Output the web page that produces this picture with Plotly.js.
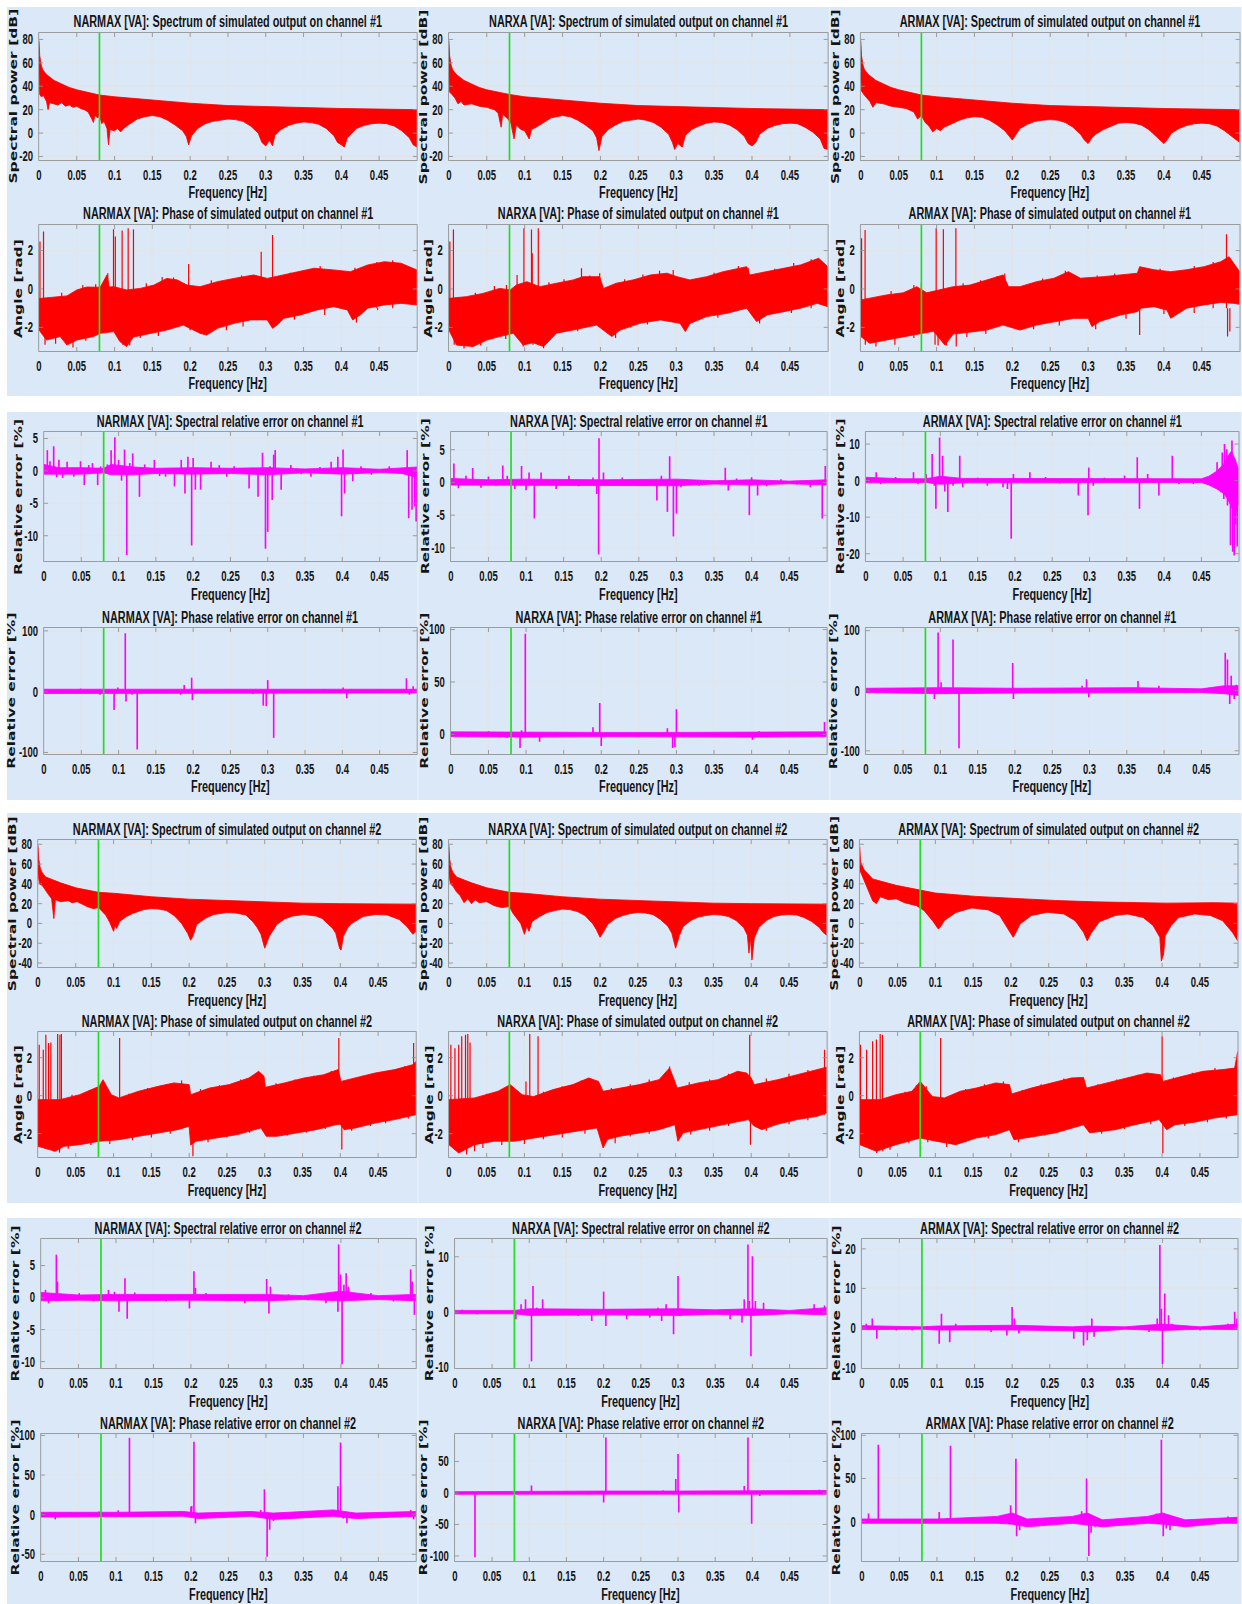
<!DOCTYPE html>
<html><head><meta charset="utf-8">
<script src="https://cdn.plot.ly/plotly-3.0.1.min.js"></script>
<style>
html,body{margin:0;padding:0;background:#fff;overflow:hidden;width:1242px;height:1604px}
#wrap{position:relative;width:1242px;height:1604px;overflow:hidden}
#chart{position:absolute;left:0;top:0;transform-origin:0 0}
</style></head>
<body><div id="wrap"><div id="chart"></div></div>
<script>
// ======================= DATA =======================
const models = ['NARMAX', 'NARXA', 'ARMAX'];
const channels = ['#1', '#2'];
const cutoffFreq = 0.08;
const freqTickVals = [0, 0.05, 0.1, 0.15, 0.2, 0.25, 0.3, 0.35, 0.4, 0.45];
const freqTickText = ['0', '0.05', '0.1', '0.15', '0.2', '0.25', '0.3', '0.35', '0.4', '0.45'];

// ---- Spectrum of simulated output, channel #1 : [freq, dB] envelopes ----
const spec1Hi_NARMAX = [[0,79],[0.001,66],[0.003,58],[0.005,54],[0.01,50],[0.02,45],[0.03,42],[0.04,39],[0.05,37],[0.07,34],[0.08,32.5],[0.1,31],[0.15,28],[0.2,25.5],[0.25,23.5],[0.3,22.5],[0.35,21.5],[0.4,21],[0.45,20.5],[0.5,20]];
const spec1Lo_NARMAX = [[0,50],[0.001,33],[0.003,31],[0.006,32],[0.01,27],[0.012,20],[0.014,26],[0.02,25],[0.025,24],[0.03,26],[0.035,23],[0.04,24],[0.045,22],[0.05,23],[0.055,21],[0.06,20],[0.065,18],[0.07,12],[0.072,9],[0.074,15],[0.078,13],[0.08,15],[0.083,8],[0.086,10],[0.09,4],[0.092,-10],[0.094,3],[0.1,2],[0.104,4],[0.108,1],[0.112,4],[0.118,7],[0.125,10],[0.13,12],[0.14,14],[0.15,15],[0.16,14],[0.17,11],[0.18,7],[0.19,2],[0.195,-3],[0.198,-10],[0.202,-2],[0.21,4],[0.22,8],[0.23,10],[0.24,11],[0.25,12],[0.26,11.5],[0.27,10],[0.28,6],[0.29,0],[0.295,-8],[0.3,-11],[0.305,-6],[0.309,-11],[0.312,-2],[0.32,3],[0.33,6.5],[0.34,8.5],[0.35,9.5],[0.36,9],[0.37,7.5],[0.38,4],[0.39,-2],[0.395,-8],[0.4,-10],[0.404,-12],[0.408,-4],[0.415,1],[0.42,4],[0.43,6.5],[0.44,8],[0.45,8.5],[0.46,8],[0.47,6],[0.48,2],[0.49,-4],[0.495,-10],[0.5,-12]];
const spec1Hi_NARXA = [[0,79],[0.001,66],[0.003,58],[0.005,54],[0.01,50],[0.02,45],[0.03,42],[0.04,39],[0.05,37],[0.07,34],[0.08,33],[0.1,31],[0.15,28],[0.2,25.5],[0.25,23.5],[0.3,22.5],[0.35,21.5],[0.4,21],[0.45,20.5],[0.5,20]];
const spec1Lo_NARXA = [[0,50],[0.001,35],[0.004,33],[0.008,30],[0.012,25],[0.016,27],[0.02,24],[0.03,25],[0.04,23],[0.05,22],[0.06,20],[0.065,17],[0.069,5],[0.071,16],[0.078,12],[0.082,8],[0.086,-5],[0.089,7],[0.095,3],[0.1,2],[0.106,-5],[0.109,3],[0.115,5],[0.125,9],[0.135,13],[0.15,15],[0.16,14],[0.17,11],[0.18,7],[0.19,2],[0.195,-4],[0.198,-15],[0.202,-3],[0.21,3],[0.22,7],[0.23,10],[0.24,11],[0.25,12],[0.26,11],[0.27,9],[0.28,5],[0.29,-1],[0.295,-8],[0.298,-14],[0.302,-9],[0.308,-12],[0.312,-2],[0.32,3],[0.33,6],[0.34,8.5],[0.35,9.5],[0.36,9],[0.37,7],[0.38,3],[0.39,-3],[0.395,-9],[0.4,-11],[0.405,-8],[0.41,-1],[0.42,4],[0.43,6.5],[0.44,8],[0.45,8.5],[0.46,8],[0.47,5],[0.48,1],[0.49,-5],[0.495,-13],[0.5,-14]];
const spec1Hi_ARMAX = [[0,79],[0.001,66],[0.003,58],[0.005,54],[0.01,50],[0.02,45],[0.03,42],[0.04,39],[0.05,37],[0.07,34],[0.08,32.5],[0.1,31],[0.15,28],[0.2,25.5],[0.25,23.5],[0.3,22.5],[0.35,21.5],[0.4,21],[0.45,20.5],[0.5,20]];
const spec1Lo_ARMAX = [[0,50],[0.001,36],[0.004,33],[0.008,30],[0.012,27],[0.016,22],[0.02,26],[0.03,25],[0.04,23],[0.05,22],[0.06,21],[0.07,18],[0.075,12],[0.08,15],[0.085,9],[0.09,6],[0.095,1],[0.1,4],[0.105,2],[0.11,5],[0.12,8],[0.13,11],[0.14,13],[0.15,14],[0.16,13.5],[0.17,11],[0.18,7],[0.19,2],[0.195,-2],[0.2,-6],[0.205,-1],[0.21,4],[0.22,7.5],[0.23,10],[0.24,11],[0.25,11.5],[0.26,11],[0.27,9],[0.28,5],[0.29,-1],[0.295,-6],[0.3,-9],[0.305,-4],[0.31,-1],[0.32,3],[0.33,6],[0.34,8.5],[0.35,9],[0.36,8.5],[0.37,7],[0.38,3],[0.39,-3],[0.395,-6],[0.4,-9],[0.405,-5],[0.41,0],[0.42,4],[0.43,6.5],[0.44,8],[0.45,8.5],[0.46,8],[0.47,6],[0.48,2],[0.49,-3],[0.495,-6],[0.5,-8]];

// ---- Phase of simulated output, channel #1 : [freq, rad] envelopes and spikes/hairs ----
const phase1Hi_NARMAX = [[0,-0.5],[0.037,-0.36],[0.05,-0.05],[0.063,0.1],[0.081,0.09],[0.09,0.73],[0.093,0.1],[0.099,0.12],[0.116,-0.05],[0.134,0.03],[0.152,0.2],[0.169,0.55],[0.183,0.47],[0.196,0.2],[0.213,0.12],[0.236,0.38],[0.258,0.55],[0.284,0.73],[0.302,0.55],[0.324,0.73],[0.346,0.9],[0.364,1.08],[0.39,0.99],[0.412,0.9],[0.435,1.25],[0.457,1.42],[0.479,1.34],[0.5,0.99]];
const phase1Lo_NARMAX = [[0,-2.14],[0.01,-2.66],[0.028,-2.48],[0.037,-2.92],[0.05,-2.66],[0.072,-2.48],[0.081,-2.31],[0.099,-2.22],[0.107,-2.74],[0.116,-3.0],[0.125,-2.5],[0.147,-2.3],[0.169,-2.14],[0.191,-1.88],[0.213,-2.31],[0.222,-2.4],[0.236,-2.05],[0.258,-1.79],[0.28,-1.61],[0.302,-1.61],[0.309,-2.05],[0.315,-1.88],[0.324,-1.53],[0.346,-1.35],[0.368,-1.09],[0.39,-0.92],[0.408,-1.09],[0.415,-1.61],[0.425,-1.35],[0.435,-1.0],[0.457,-0.83],[0.479,-0.75],[0.5,-0.83]];
const phase1Spk_NARMAX = [[0.0013,2.47],[0.006,2.99],[0.008,-2.9],[0.091,0.82],[0.0986,3.11],[0.101,2.73],[0.11,3.04],[0.111,-2.9],[0.118,3.16],[0.12,-2.95],[0.125,3.1],[0.198,1.3],[0.294,1.94],[0.309,2.81],
  [0.03,-0.2],[0.058,0.2],[0.075,0.25],[0.142,0.3],[0.163,0.62],[0.178,0.6],[0.228,0.45],[0.268,0.7],[0.333,0.85],[0.372,1.2],[0.418,1.1],[0.447,1.4],[0.468,1.5],
  [0.022,-2.85],[0.045,-3.05],[0.062,-2.7],[0.134,-2.55],[0.158,-2.45],[0.2,-2.15],[0.248,-2.15],[0.27,-1.95],[0.338,-1.6],[0.378,-1.35],[0.42,-1.75],[0.448,-1.1],[0.49,-1.0]];
const phase1Hi_NARXA = [[0,-0.49],[0.023,-0.4],[0.045,-0.23],[0.067,0.03],[0.081,-0.05],[0.089,0.2],[0.103,0.38],[0.12,0.12],[0.142,0.3],[0.164,0.47],[0.177,0.64],[0.199,0.64],[0.204,0.03],[0.221,0.3],[0.243,0.47],[0.266,0.73],[0.288,0.82],[0.301,0.64],[0.318,0.47],[0.34,0.64],[0.362,0.9],[0.393,1.16],[0.397,0.73],[0.42,0.9],[0.442,1.08],[0.464,1.25],[0.488,1.6],[0.5,1.16]];
const phase1Lo_NARXA = [[0,-2.14],[0.01,-2.92],[0.032,-3.0],[0.05,-2.66],[0.067,-2.48],[0.085,-2.31],[0.098,-2.92],[0.111,-2.8],[0.125,-3.0],[0.142,-2.3],[0.164,-2.14],[0.195,-1.88],[0.215,-2.48],[0.226,-2.14],[0.252,-1.79],[0.279,-1.61],[0.305,-1.79],[0.312,-2.22],[0.318,-1.8],[0.34,-1.44],[0.367,-1.27],[0.393,-1.0],[0.406,-1.7],[0.42,-1.35],[0.442,-1.18],[0.464,-1.0],[0.486,-0.75],[0.5,-0.92]];
const phase1Spk_NARXA = [[0.0013,2.47],[0.006,3.1],[0.007,-2.9],[0.09,0.73],[0.098,-3.0],[0.099,3.16],[0.109,3.1],[0.11,1.86],[0.111,-2.9],[0.118,3.16],[0.125,-3.09],[0.175,1.08],[0.199,0.82],[0.296,0.99],[0.395,1.1],
  [0.035,-0.2],[0.06,0.15],[0.076,0.2],[0.132,0.35],[0.152,0.5],[0.186,0.7],[0.232,0.5],[0.256,0.75],[0.278,0.95],[0.35,0.85],[0.382,1.2],[0.43,1.05],[0.455,1.35],[0.478,1.55],
  [0.02,-3.1],[0.042,-2.95],[0.075,-2.6],[0.135,-2.5],[0.17,-2.2],[0.22,-2.55],[0.24,-2.0],[0.262,-1.85],[0.33,-1.6],[0.355,-1.5],[0.41,-1.8],[0.452,-1.25]];
const phase1Hi_ARMAX = [[0,-0.57],[0.034,-0.31],[0.056,-0.2],[0.074,0.12],[0.087,-0.2],[0.105,-0.05],[0.122,0.12],[0.144,0.2],[0.166,0.47],[0.188,0.73],[0.195,0.12],[0.21,0.12],[0.232,0.38],[0.255,0.56],[0.274,0.9],[0.29,0.56],[0.32,0.64],[0.343,0.73],[0.365,0.82],[0.368,1.16],[0.387,1.0],[0.409,0.9],[0.43,1.0],[0.453,1.16],[0.475,1.42],[0.486,1.68],[0.5,0.9]];
const phase1Lo_ARMAX = [[0,-2.48],[0.012,-2.83],[0.034,-2.66],[0.056,-2.5],[0.078,-2.31],[0.096,-2.2],[0.111,-2.92],[0.122,-2.35],[0.144,-2.25],[0.166,-2.14],[0.188,-1.88],[0.21,-2.14],[0.232,-1.88],[0.255,-1.7],[0.281,-1.53],[0.3,-1.53],[0.305,-1.96],[0.315,-1.7],[0.343,-1.35],[0.365,-1.18],[0.37,-1.0],[0.387,-0.92],[0.404,-1.1],[0.409,-1.53],[0.43,-1.0],[0.453,-0.83],[0.475,-0.7],[0.492,-0.75],[0.5,-0.8]];
const phase1Spk_ARMAX = [[0.001,2.64],[0.0057,3.07],[0.006,-2.9],[0.0995,3.16],[0.098,-2.9],[0.109,3.11],[0.113,-2.95],[0.1255,3.16],[0.126,-3.0],[0.368,-2.4],[0.4826,2.85],[0.484,-2.48],[0.487,-2.22],
  [0.04,-0.1],[0.07,0.2],[0.08,0.3],[0.135,0.3],[0.158,0.45],[0.18,0.68],[0.19,0.8],[0.24,0.55],[0.27,0.95],[0.312,0.7],[0.335,0.8],[0.395,1.05],[0.44,1.2],[0.465,1.4],
  [0.02,-3.0],[0.045,-2.9],[0.07,-2.55],[0.102,-2.95],[0.14,-2.5],[0.165,-2.35],[0.228,-2.1],[0.262,-1.9],[0.31,-2.1],[0.35,-1.55],[0.4,-1.3],[0.44,-1.25]];

// ---- Spectral relative error, channel #1 : band [freq, lo, hi] and spikes [freq, %] ----
const specErr1Band_NARMAX = [[0,-0.5,1],[0.02,-0.5,0.5],[0.05,-0.5,0.5],[0.08,-0.3,0.4],[0.09,-0.6,1],[0.12,-0.6,0.6],[0.15,-0.4,0.4],[0.2,-0.5,0.5],[0.25,-0.4,0.4],[0.3,-0.6,0.5],[0.35,-0.3,0.3],[0.4,-0.5,0.5],[0.45,-0.25,0.25],[0.48,-0.4,0.5],[0.5,-1,0.6]];
const specErr1Spk_NARMAX = [[0.0045,3.2],[0.008,1.5],[0.013,3.8],[0.017,-1.0],[0.02,1.7],[0.025,-1.1],[0.031,1.4],[0.04,-0.9],[0.049,1.5],[0.054,-2.2],[0.06,0.9],[0.065,1.2],[0.072,-2.2],[0.076,0.7],[0.085,1.0],[0.09,3.2],[0.095,5.2],[0.1,1.7],[0.104,-1.5],[0.108,3.3],[0.111,-13.0],[0.115,1.2],[0.119,2.7],[0.128,-4.0],[0.135,1.0],[0.148,1.7],[0.155,-0.8],[0.163,-0.9],[0.175,-2.4],[0.184,1.7],[0.189,-3.5],[0.193,2.2],[0.198,-11.5],[0.2,2.0],[0.203,-2.9],[0.21,-2.9],[0.224,1.4],[0.235,0.9],[0.245,-0.9],[0.255,0.7],[0.275,-2.7],[0.287,-4.0],[0.293,2.8],[0.297,-12.0],[0.3,-9.4],[0.303,0.7],[0.306,-4.5],[0.308,2.5],[0.31,3.2],[0.318,-2.9],[0.331,0.9],[0.345,-0.5],[0.358,-0.9],[0.37,0.6],[0.385,1.4],[0.394,2.2],[0.399,-7.0],[0.401,3.3],[0.403,-3.5],[0.414,-1.6],[0.425,0.7],[0.439,-0.6],[0.463,0.7],[0.479,0.4],[0.487,3.2],[0.489,-7.3],[0.4935,-6.0],[0.497,-5.5],[0.499,-7.8]];
const specErr1Band_NARXA = [[0,-0.4,0.6],[0.05,-0.4,0.4],[0.1,-0.5,0.5],[0.2,-0.4,0.4],[0.3,-0.5,0.5],[0.35,-0.25,0.25],[0.4,-0.4,0.4],[0.45,-0.2,0.2],[0.5,-0.4,0.4]];
const specErr1Spk_NARXA = [[0.004,2.9],[0.01,-0.9],[0.02,1.0],[0.029,2.2],[0.04,-0.8],[0.05,0.9],[0.06,-0.5],[0.069,2.6],[0.075,1.0],[0.085,-1.0],[0.094,2.5],[0.1,-1.2],[0.104,1.5],[0.111,-5.5],[0.12,1.5],[0.14,-1.0],[0.157,1.0],[0.17,-0.6],[0.189,0.75],[0.194,-1.75],[0.1965,-11.0],[0.197,6.75],[0.203,1.5],[0.228,0.75],[0.25,-0.5],[0.274,-2.75],[0.28,1.0],[0.288,-4.5],[0.291,4.0],[0.296,-8.25],[0.3,-4.75],[0.306,-0.75],[0.33,-0.5],[0.365,2.25],[0.369,-1.25],[0.38,0.6],[0.397,-5.0],[0.4,0.8],[0.408,-2.0],[0.42,-0.6],[0.439,0.5],[0.46,-0.3],[0.478,-0.75],[0.494,-5.5],[0.498,2.5]];
const specErr1Band_ARMAX = [[0,-0.6,0.9],[0.05,-0.5,0.5],[0.08,-0.5,0.5],[0.1,-1,1.2],[0.13,-0.6,0.6],[0.2,-0.6,0.6],[0.3,-0.6,0.6],[0.36,-0.5,0.5],[0.45,-0.5,0.5],[0.46,-1.2,1.2],[0.47,-2.2,2.5],[0.48,-3.5,4.5],[0.485,-5,6.5],[0.49,-7,8],[0.495,-10,6],[0.5,-6,3]];
const specErr1Spk_ARMAX = [[0.014,2.3],[0.02,-1],[0.04,1.0],[0.064,2.3],[0.07,-1],[0.081,1.8],[0.089,7.3],[0.092,-1.4],[0.094,-7.7],[0.099,11.8],[0.103,6.8],[0.106,-3],[0.11,-8.6],[0.117,-1.4],[0.126,6.8],[0.13,-1.8],[0.15,0.8],[0.163,-1.4],[0.184,-1.8],[0.19,-2.3],[0.195,-15.9],[0.198,1.8],[0.22,2.3],[0.241,1.0],[0.26,-0.8],[0.285,-4.1],[0.298,-9.5],[0.299,3.6],[0.305,-1.4],[0.32,0.8],[0.347,1.4],[0.364,6.4],[0.367,-7.7],[0.378,1.8],[0.393,-4.1],[0.411,6.8],[0.42,-1],[0.439,-0.9],[0.471,5.0],[0.476,-3.2],[0.478,7.7],[0.48,-5],[0.481,10.0],[0.484,8.6],[0.485,-6.8],[0.489,-17.7],[0.491,11],[0.492,-19.5],[0.494,-20.5],[0.496,-12],[0.498,-18]];

// ---- Phase relative error, channel #1 ----
const phaseErr1Band_NARMAX = [[0,-3,4],[0.1,-3,4],[0.2,-3,4],[0.3,-3,4],[0.4,-3,4],[0.5,-2,4]];
const phaseErr1Spk_NARMAX = [[0.02,3],[0.049,5],[0.075,-5],[0.094,-30],[0.099,7],[0.109,96],[0.11,-16],[0.118,-5],[0.125,-95],[0.14,3],[0.183,-5],[0.188,11],[0.198,23],[0.199,-14],[0.245,4],[0.28,-4],[0.294,-23],[0.298,-24],[0.3,19],[0.308,-76],[0.32,3],[0.376,4],[0.401,7],[0.406,-11],[0.45,4],[0.486,22],[0.49,-5],[0.495,9]];
const phaseErr1Band_NARXA = [[0,-2,2.5],[0.1,-2.5,2],[0.2,-2,2],[0.3,-2.5,2],[0.4,-2.5,2],[0.5,-2,2.5]];
const phaseErr1Spk_NARXA = [[0.023,-2.5],[0.05,3],[0.075,-3],[0.092,-13],[0.094,4],[0.099,96],[0.118,-7],[0.14,2],[0.189,7],[0.198,30],[0.2,-11],[0.25,-2],[0.288,6],[0.295,-13],[0.298,-12],[0.3,24],[0.35,2],[0.401,-5],[0.41,3],[0.45,-2],[0.497,12]];
const phaseErr1Band_ARMAX = [[0,-3,4],[0.1,-5,5],[0.2,-4,4],[0.3,-4,4],[0.36,-3,5],[0.45,-3,3],[0.48,-5,8],[0.5,-8,8]];
const phaseErr1Spk_ARMAX = [[0.01,3],[0.05,-3],[0.092,-14],[0.097,97],[0.101,14],[0.107,-5],[0.117,85],[0.125,-96],[0.16,3],[0.197,46],[0.198,-14],[0.25,3],[0.29,8],[0.296,19],[0.299,-11],[0.365,16],[0.37,-4],[0.393,8],[0.43,3],[0.482,63],[0.485,52],[0.488,-22],[0.49,25],[0.494,-14],[0.497,10]];

// ---- Spectrum of simulated output, channel #2 ----
const spec2Hi_NARMAX = [[0,79],[0.001,65],[0.003,56],[0.005,52],[0.01,47],[0.02,44],[0.03,41],[0.05,36],[0.08,31.5],[0.1,30.5],[0.15,27],[0.2,24.5],[0.25,23],[0.3,21.5],[0.35,20.5],[0.4,20],[0.45,19.5],[0.5,19.5]];
const spec2Lo_NARMAX = [[0,50],[0.002,40],[0.006,38],[0.01,33],[0.014,29],[0.018,25],[0.021,5],[0.023,24],[0.03,22],[0.04,23],[0.045,21],[0.052,22],[0.06,19],[0.065,17],[0.073,15],[0.08,16],[0.085,12],[0.09,8],[0.095,1],[0.1,-8],[0.102,-2],[0.104,-5],[0.108,2],[0.117,7],[0.125,10],[0.132,12],[0.14,14],[0.15,15],[0.16,14.5],[0.17,13],[0.18,8],[0.184,5],[0.19,0],[0.194,-5],[0.198,-10],[0.202,-17],[0.205,-13],[0.21,-1],[0.221,5],[0.232,9],[0.243,10.5],[0.25,11],[0.262,10.5],[0.275,8.5],[0.284,2],[0.29,-4],[0.295,-11],[0.3,-25],[0.306,-13],[0.316,-1],[0.326,4.5],[0.337,7.5],[0.352,9],[0.368,7.5],[0.376,5],[0.383,0],[0.39,-5],[0.394,-10],[0.399,-25],[0.401,-27],[0.404,-13],[0.41,-4],[0.415,0],[0.43,7],[0.446,9],[0.462,8.5],[0.478,4],[0.488,-3],[0.496,-11],[0.5,-8]];
const spec2Hi_NARXA = [[0,79],[0.001,65],[0.003,56],[0.005,52],[0.01,47],[0.02,44],[0.03,41],[0.05,36],[0.08,31.5],[0.1,30.5],[0.15,27],[0.2,24.5],[0.25,23],[0.3,21.5],[0.35,20.5],[0.4,20],[0.45,19.5],[0.5,19.5]];
const spec2Lo_NARXA = [[0,50],[0.002,40],[0.006,37],[0.01,32],[0.015,28],[0.02,21],[0.025,25],[0.03,20],[0.035,24],[0.04,21],[0.05,22],[0.06,18],[0.07,16],[0.08,17],[0.085,10],[0.09,5],[0.095,0],[0.1,-11],[0.103,-3],[0.106,-8],[0.11,2],[0.12,7],[0.13,11],[0.14,13],[0.15,14.5],[0.16,14],[0.17,12],[0.18,8],[0.19,0],[0.195,-6],[0.2,-14],[0.205,-8],[0.21,-1],[0.22,5],[0.23,8],[0.24,10],[0.25,11],[0.26,10.5],[0.27,9],[0.28,4],[0.29,-3],[0.295,-10],[0.3,-25],[0.305,-12],[0.31,-3],[0.32,3],[0.33,6.5],[0.34,8],[0.35,9],[0.36,8.5],[0.37,7],[0.38,3],[0.39,-4],[0.395,-12],[0.397,-30],[0.399,-14],[0.401,-37],[0.404,-15],[0.41,-4],[0.42,3],[0.43,7],[0.44,8.5],[0.45,9],[0.46,8.5],[0.47,6],[0.48,2],[0.49,-4],[0.495,-9],[0.5,-12]];
const spec2Hi_ARMAX = [[0,77.6],[0.001,62],[0.006,54],[0.017,45],[0.048,38.5],[0.08,33.4],[0.1,30.7],[0.154,27.3],[0.206,25],[0.259,23.2],[0.312,21.8],[0.364,21],[0.406,20.5],[0.469,21],[0.5,20.5]];
const spec2Lo_ARMAX = [[0,54],[0.009,37],[0.017,23],[0.022,20],[0.027,27],[0.038,24],[0.048,25],[0.059,21],[0.075,18],[0.085,13],[0.096,3],[0.104,-5.7],[0.108,-2],[0.112,3],[0.127,11],[0.148,15.7],[0.17,13.7],[0.185,8],[0.198,-7.4],[0.203,-14],[0.206,-10],[0.212,-0.6],[0.227,8],[0.248,11.3],[0.27,9.6],[0.285,2.8],[0.296,-9],[0.301,-17.6],[0.306,-10],[0.317,1.7],[0.338,8],[0.354,9.6],[0.375,6],[0.388,-2],[0.397,-14],[0.399,-38],[0.402,-31],[0.404,-12.5],[0.412,-2],[0.422,6],[0.443,9.6],[0.464,8],[0.48,2.8],[0.493,-9],[0.5,-17.6]];

// ---- Phase of simulated output, channel #2 ----
const phase2Hi_NARMAX = [[0,-0.21],[0.029,-0.21],[0.055,0.05],[0.081,0.49],[0.086,0.84],[0.097,0.05],[0.107,-0.12],[0.133,0.23],[0.159,0.49],[0.18,0.67],[0.2,0.58],[0.202,0.05],[0.227,0.4],[0.253,0.58],[0.279,0.93],[0.292,1.28],[0.299,1.02],[0.301,0.44],[0.326,0.67],[0.352,0.93],[0.378,1.1],[0.397,1.37],[0.401,0.75],[0.42,0.93],[0.446,1.19],[0.472,1.37],[0.496,1.63],[0.5,1.8]];
const phase2Lo_NARMAX = [[0,-2.67],[0.023,-2.93],[0.034,-2.67],[0.055,-2.58],[0.081,-2.4],[0.107,-2.32],[0.133,-2.14],[0.159,-1.96],[0.185,-1.79],[0.2,-1.61],[0.202,-2.6],[0.209,-2.4],[0.237,-2.23],[0.264,-2.05],[0.295,-1.7],[0.302,-2.14],[0.316,-2.14],[0.342,-1.96],[0.368,-1.79],[0.394,-1.53],[0.4,-1.5],[0.405,-1.79],[0.42,-1.7],[0.446,-1.44],[0.472,-1.26],[0.5,-1.0]];
const phase2Spk_NARMAX = [[0.0016,2.68],[0.007,2.42],[0.0104,3.2],[0.014,2.77],[0.017,2.8],[0.021,-2.93],[0.026,3.25],[0.0285,-3.0],[0.029,3.2],[0.031,3.25],[0.108,3.03],[0.205,-3.19],[0.398,3.03],[0.402,-2.84],[0.497,2.77],
  [0.045,0.05],[0.068,0.3],[0.12,0.1],[0.145,0.4],[0.17,0.6],[0.19,0.8],[0.215,0.35],[0.24,0.55],[0.268,0.85],[0.315,0.65],[0.34,0.85],[0.365,1.05],[0.388,1.3],[0.43,1.05],[0.46,1.3],[0.485,1.55],
  [0.04,-2.8],[0.07,-2.6],[0.095,-2.55],[0.125,-2.35],[0.15,-2.2],[0.175,-2.0],[0.225,-2.45],[0.25,-2.2],[0.28,-1.95],[0.33,-2.1],[0.355,-1.95],[0.38,-1.75],[0.415,-1.85],[0.44,-1.6],[0.46,-1.45],[0.49,-1.2]];
const phase2Hi_NARXA = [[0,-0.21],[0.034,-0.12],[0.065,0.23],[0.081,0.58],[0.097,0.05],[0.112,-0.05],[0.138,0.32],[0.164,0.58],[0.185,0.93],[0.198,0.75],[0.204,0.23],[0.226,0.4],[0.252,0.58],[0.278,0.84],[0.292,1.46],[0.299,0.75],[0.302,0.4],[0.33,0.67],[0.356,0.84],[0.382,1.28],[0.394,1.19],[0.4,0.93],[0.404,0.58],[0.435,0.84],[0.461,1.1],[0.487,1.37],[0.5,1.5]];
const phase2Lo_NARXA = [[0,-2.58],[0.013,-3.02],[0.034,-2.58],[0.06,-2.4],[0.086,-2.4],[0.112,-2.23],[0.138,-2.05],[0.164,-1.88],[0.196,-1.7],[0.204,-2.75],[0.21,-2.3],[0.226,-2.14],[0.252,-1.96],[0.278,-1.79],[0.299,-1.53],[0.303,-2.4],[0.31,-1.96],[0.33,-1.79],[0.356,-1.6],[0.382,-1.35],[0.396,-1.26],[0.404,-1.6],[0.414,-1.79],[0.435,-1.5],[0.461,-1.26],[0.487,-1.09],[0.5,-0.91]];
const phase2Spk_NARXA = [[0.0026,2.68],[0.008,2.5],[0.013,2.68],[0.017,3.12],[0.022,3.21],[0.0235,-3.1],[0.025,3.25],[0.028,2.8],[0.034,-2.93],[0.102,0.75],[0.107,3.25],[0.118,3.12],[0.292,1.54],[0.398,3.21],[0.399,-2.58],[0.497,2.42],
  [0.05,0.1],[0.075,0.4],[0.125,0.2],[0.15,0.5],[0.175,0.8],[0.215,0.4],[0.24,0.6],[0.265,0.85],[0.318,0.7],[0.345,0.85],[0.37,1.15],[0.42,0.9],[0.45,1.15],[0.475,1.35],
  [0.045,-2.75],[0.07,-2.6],[0.1,-2.55],[0.125,-2.3],[0.15,-2.2],[0.18,-2.0],[0.22,-2.5],[0.24,-2.15],[0.265,-2.0],[0.32,-2.05],[0.345,-1.85],[0.37,-1.6],[0.42,-1.85],[0.45,-1.5],[0.475,-1.3]];
const phase2Hi_ARMAX = [[0,-0.21],[0.027,-0.21],[0.048,0.05],[0.069,0.23],[0.08,0.75],[0.096,-0.05],[0.112,-0.12],[0.133,0.23],[0.154,0.4],[0.18,0.67],[0.198,0.58],[0.201,0.09],[0.227,0.4],[0.254,0.67],[0.28,0.93],[0.296,0.96],[0.3,0.4],[0.327,0.67],[0.354,0.93],[0.38,1.19],[0.398,1.1],[0.401,0.75],[0.427,1.02],[0.454,1.28],[0.48,1.37],[0.496,1.45],[0.5,2.33]];
const phase2Lo_ARMAX = [[0,-2.58],[0.022,-2.93],[0.048,-2.58],[0.08,-2.23],[0.101,-2.4],[0.127,-2.58],[0.154,-2.23],[0.18,-2.05],[0.198,-1.79],[0.204,-2.32],[0.233,-2.14],[0.259,-1.96],[0.296,-1.53],[0.304,-1.96],[0.338,-1.79],[0.364,-1.53],[0.396,-1.26],[0.406,-1.79],[0.417,-1.53],[0.443,-1.4],[0.469,-1.18],[0.5,-1.0]];
const phase2Spk_ARMAX = [[0.001,2.68],[0.009,2.42],[0.017,2.86],[0.022,2.95],[0.0225,-3.02],[0.027,3.25],[0.03,3.2],[0.0305,-2.93],[0.107,3.03],[0.4,3.12],[0.401,-3.02],
  [0.06,0.2],[0.075,0.55],[0.088,0.5],[0.14,0.35],[0.165,0.6],[0.19,0.75],[0.215,0.3],[0.24,0.6],[0.27,0.9],[0.315,0.6],[0.34,0.85],[0.368,1.1],[0.415,0.95],[0.44,1.2],[0.47,1.45],
  [0.04,-2.85],[0.065,-2.5],[0.09,-2.45],[0.115,-2.7],[0.14,-2.45],[0.17,-2.25],[0.21,-2.45],[0.245,-2.1],[0.27,-1.85],[0.32,-2.0],[0.35,-1.75],[0.385,-1.5],[0.43,-1.6],[0.46,-1.4],[0.485,-1.2]];

// ---- Spectral relative error, channel #2 ----
const specErr2Band_NARMAX = [[0,-0.5,0.8],[0.05,-0.4,0.4],[0.1,-0.5,0.5],[0.2,-0.4,0.5],[0.3,-0.5,0.5],[0.35,-0.3,0.3],[0.4,-0.5,1],[0.45,-0.3,0.3],[0.5,-0.5,0.5]];
const specErr2Spk_NARMAX = [[0.006,1.2],[0.01,-0.9],[0.0205,6.7],[0.022,2.5],[0.033,0.5],[0.051,0.7],[0.07,-0.6],[0.09,1.2],[0.098,0.9],[0.104,-2.2],[0.112,3.0],[0.115,-3.3],[0.125,0.8],[0.15,-0.4],[0.167,-0.6],[0.198,-1.7],[0.204,4.1],[0.206,1.5],[0.22,0.7],[0.25,-0.5],[0.272,-0.9],[0.301,2.9],[0.304,-2.5],[0.306,1.7],[0.33,0.5],[0.356,-0.4],[0.38,-0.9],[0.396,-2.2],[0.397,8.3],[0.3995,3.6],[0.4016,-10.4],[0.404,2.0],[0.407,3.8],[0.41,1.7],[0.44,0.7],[0.47,-0.6],[0.493,4.4],[0.495,2.5],[0.498,-2.7]];
const specErr2Band_NARXA = [[0,-0.3,0.3],[0.08,-0.3,0.3],[0.1,-0.6,0.6],[0.2,-0.5,0.5],[0.3,-0.6,0.6],[0.35,-0.4,0.4],[0.4,-0.6,0.6],[0.45,-0.3,0.3],[0.5,-0.5,0.8]];
const specErr2Spk_NARXA = [[0.01,0.4],[0.03,-0.4],[0.06,0.3],[0.082,-1.3],[0.089,1.4],[0.095,2.3],[0.103,-8.9],[0.105,4.7],[0.11,0.8],[0.118,2.3],[0.14,-0.5],[0.166,-0.7],[0.184,-1.6],[0.2,3.7],[0.203,-2.5],[0.231,-1.3],[0.262,-1.0],[0.273,0.8],[0.278,-1.6],[0.284,1.4],[0.294,-4.0],[0.3,6.5],[0.303,-0.7],[0.333,-0.4],[0.362,-0.4],[0.37,-1.3],[0.386,-1.9],[0.389,2.3],[0.394,12.2],[0.396,2.0],[0.398,-8.0],[0.4,10.1],[0.404,2.0],[0.415,1.7],[0.431,-0.4],[0.483,1.4],[0.491,0.5],[0.497,1.2]];
const specErr2Band_ARMAX = [[0,-0.4,0.6],[0.08,-0.3,0.3],[0.1,-0.5,0.5],[0.2,-0.5,0.7],[0.28,-0.7,0.3],[0.3,-1,0.5],[0.35,-0.3,0.3],[0.4,-0.6,1],[0.45,-0.3,0.3],[0.5,-0.4,1]];
const specErr2Spk_ARMAX = [[0.006,1.1],[0.014,2.4],[0.02,-2.7],[0.046,-0.6],[0.067,-0.6],[0.103,-4.0],[0.106,3.6],[0.117,-3.6],[0.125,1.1],[0.172,-1.0],[0.193,-1.9],[0.2,5.3],[0.203,2.4],[0.209,-1.4],[0.266,-0.6],[0.282,-2.7],[0.295,-4.4],[0.3,-3.1],[0.306,2.4],[0.309,-2.2],[0.382,-1.0],[0.393,2.4],[0.3965,21],[0.3985,4.9],[0.4,-9.1],[0.403,8.7],[0.408,3.2],[0.413,1.1],[0.45,-0.6],[0.487,1.1],[0.496,4.1],[0.499,2.4]];

// ---- Phase relative error, channel #2 ----
const phaseErr2Band_NARMAX = [[0,-3,3],[0.1,-2,3],[0.19,-2,4],[0.21,-5,2],[0.28,-2,4],[0.31,-6,2],[0.39,-2,6],[0.42,-5,2],[0.5,-2,4]];
const phaseErr2Spk_NARMAX = [[0.009,-2],[0.019,-6],[0.04,3],[0.077,4],[0.103,5.5],[0.118,97],[0.15,-2],[0.2,10],[0.201,11],[0.204,92],[0.206,-11],[0.25,-3],[0.28,3],[0.293,6],[0.298,32],[0.3016,-53],[0.305,-19],[0.31,-8],[0.35,3],[0.396,36],[0.3995,91],[0.403,-5],[0.408,-11],[0.45,-4],[0.493,6],[0.497,-6]];
const phaseErr2Band_NARXA = [[0,-2,2],[0.1,-2,3],[0.2,-2,3],[0.3,-3,3],[0.4,-3,3],[0.5,-2,4]];
const phaseErr2Spk_NARXA = [[0.027,-102],[0.103,12],[0.15,3],[0.18,-2],[0.2,-15],[0.203,88],[0.25,3],[0.28,4],[0.297,22],[0.3,62],[0.301,-31],[0.35,2],[0.389,11],[0.394,88],[0.399,-49],[0.41,-5],[0.45,2],[0.483,4],[0.49,5]];
const phaseErr2Band_ARMAX = [[0,-2,3],[0.1,-2,3],[0.18,-2,6],[0.2,-3,10],[0.22,-6,3],[0.28,-2,6],[0.3,-4,10],[0.32,-6,2],[0.38,-2,6],[0.4,-3,10],[0.43,-6,2],[0.48,-2,4],[0.5,-2,5]];
const phaseErr2Spk_ARMAX = [[0.009,9.5],[0.022,89],[0.05,2],[0.103,11],[0.118,88],[0.12,-2],[0.198,19],[0.205,73],[0.206,-17],[0.21,-10],[0.25,3],[0.2925,12],[0.299,50],[0.302,-40],[0.305,-13],[0.31,-6],[0.392,9.5],[0.3985,95],[0.401,-17],[0.405,-8],[0.41,-10],[0.487,6],[0.497,5]];

// ---- Y axis ranges and tick values ----
const ySpec1Range = [-23, 85.5], ySpec1Ticks = [-20, 0, 20, 40, 60, 80];
const yPhase1Range = [-3.23, 3.33], yPhase1Ticks = [-2, 0, 2];
const ySpecErr1Ranges = [[-13.9, 6], [-12, 7.7], [-22, 13.3]];
const ySpecErr1Ticks = [[-10, -5, 0, 5], [-10, -5, 0, 5], [-20, -10, 0, 10]];
const yPhaseErr1Ranges = [[-102.5, 104.7], [-18.6, 101.5], [-105.4, 104.3]];
const yPhaseErr1Ticks = [[-100, 0, 100], [0, 50, 100], [-100, 0, 100]];
const ySpec2Range = [-44, 84.3], ySpec2Ticks = [-40, -20, 0, 20, 40, 60, 80];
const yPhase2Range = [-3.23, 3.35], yPhase2Ticks = [-2, 0, 2];
const ySpecErr2Ranges = [[-11, 9.15], [-10.1, 13.2], [-10.1, 22.5]];
const ySpecErr2Ticks = [[-10, -5, 0, 5], [-10, 0, 10], [-10, 0, 10, 20]];
const yPhaseErr2Ranges = [[-58.5, 101.8], [-108, 93.6], [-45.7, 101.6]];
const yPhaseErr2Ticks = [[-50, 0, 50, 100], [-100, -50, 0, 50], [0, 50, 100]];

// ======================= LOOKUP TABLES BUILT FROM THE ARRAYS =======================
const SPEC = {
  '#1': {NARMAX: [spec1Hi_NARMAX, spec1Lo_NARMAX], NARXA: [spec1Hi_NARXA, spec1Lo_NARXA], ARMAX: [spec1Hi_ARMAX, spec1Lo_ARMAX]},
  '#2': {NARMAX: [spec2Hi_NARMAX, spec2Lo_NARMAX], NARXA: [spec2Hi_NARXA, spec2Lo_NARXA], ARMAX: [spec2Hi_ARMAX, spec2Lo_ARMAX]}
};
const PHASE = {
  '#1': {NARMAX: [phase1Hi_NARMAX, phase1Lo_NARMAX, phase1Spk_NARMAX], NARXA: [phase1Hi_NARXA, phase1Lo_NARXA, phase1Spk_NARXA], ARMAX: [phase1Hi_ARMAX, phase1Lo_ARMAX, phase1Spk_ARMAX]},
  '#2': {NARMAX: [phase2Hi_NARMAX, phase2Lo_NARMAX, phase2Spk_NARMAX], NARXA: [phase2Hi_NARXA, phase2Lo_NARXA, phase2Spk_NARXA], ARMAX: [phase2Hi_ARMAX, phase2Lo_ARMAX, phase2Spk_ARMAX]}
};
const SPECERR = {
  '#1': {NARMAX: [specErr1Band_NARMAX, specErr1Spk_NARMAX], NARXA: [specErr1Band_NARXA, specErr1Spk_NARXA], ARMAX: [specErr1Band_ARMAX, specErr1Spk_ARMAX]},
  '#2': {NARMAX: [specErr2Band_NARMAX, specErr2Spk_NARMAX], NARXA: [specErr2Band_NARXA, specErr2Spk_NARXA], ARMAX: [specErr2Band_ARMAX, specErr2Spk_ARMAX]}
};
const PHASEERR = {
  '#1': {NARMAX: [phaseErr1Band_NARMAX, phaseErr1Spk_NARMAX], NARXA: [phaseErr1Band_NARXA, phaseErr1Spk_NARXA], ARMAX: [phaseErr1Band_ARMAX, phaseErr1Spk_ARMAX]},
  '#2': {NARMAX: [phaseErr2Band_NARMAX, phaseErr2Spk_NARMAX], NARXA: [phaseErr2Band_NARXA, phaseErr2Spk_NARXA], ARMAX: [phaseErr2Band_ARMAX, phaseErr2Spk_ARMAX]}
};
const YAX = {
  '#1': {
    spec: ci => [ySpec1Range, ySpec1Ticks], phase: ci => [yPhase1Range, yPhase1Ticks],
    specErr: ci => [ySpecErr1Ranges[ci], ySpecErr1Ticks[ci]], phaseErr: ci => [yPhaseErr1Ranges[ci], yPhaseErr1Ticks[ci]]
  },
  '#2': {
    spec: ci => [ySpec2Range, ySpec2Ticks], phase: ci => [yPhase2Range, yPhase2Ticks],
    specErr: ci => [ySpecErr2Ranges[ci], ySpecErr2Ticks[ci]], phaseErr: ci => [yPhaseErr2Ranges[ci], yPhaseErr2Ticks[ci]]
  }
};
const TITLES = {
  spec: 'Spectrum of simulated output on channel',
  phase: 'Phase of simulated output on channel',
  specErr: 'Spectral relative error on channel',
  phaseErr: 'Phase relative error on channel'
};
const YLABELS = {spec: 'Spectral power [dB]', phase: 'Angle [rad]', specErr: 'Relative error [%]', phaseErr: 'Relative error [%]'};

// ======================= LAYOUT GEOMETRY (reference pixels) =======================
const FIG_W = 1242, FIG_H = 1604;
const SQUEEZE = 0.68;                 // horizontal condensation of the reference image
const PLOT_W = Math.round(FIG_W / SQUEEZE);
const fx = v => v / FIG_W;
const fy = v => 1 - v / FIG_H;

const blockDefs = [
  {ch: '#1', kinds: ['spec', 'phase'],       band: [7, 396],     L: [39, 449, 861], R: [417, 828, 1240], rows: [[33, 160], [225, 351]]},
  {ch: '#1', kinds: ['specErr', 'phaseErr'], band: [412, 800],   L: [44, 451, 866], R: [417, 827, 1239], rows: [[432, 561], [628, 754]]},
  {ch: '#2', kinds: ['spec', 'phase'],       band: [813, 1203],  L: [38, 449, 860], R: [416, 827, 1238], rows: [[840, 967], [1032, 1157]]},
  {ch: '#2', kinds: ['specErr', 'phaseErr'], band: [1218, 1604], L: [41, 455, 862], R: [416, 827, 1238], rows: [[1239, 1368], [1434, 1561]]}
];

const RED = '#ff0000', MAGENTA = '#ff00ff', GREEN = '#1fe01f';
const BLUE_BG = '#dbe8f7';
const TXT = '#141414';
const TXT_FONT = "'Liberation Sans', Arial, Helvetica, sans-serif";
const YLAB_FONT = "'DejaVu Sans', Verdana, sans-serif";
const SPIKE_BASE = -1;
const SPIKE_W = 0.0022;
const HAIR_W = 0.0016;

const xs = p => p.map(d => d[0]);
const ys = p => p.map(d => d[1]);

const traces = [];
const layout = {
  width: PLOT_W, height: FIG_H,
  margin: {l: 0, r: 0, t: 0, b: 0, pad: 0},
  paper_bgcolor: '#ffffff', plot_bgcolor: '#ffffff',
  showlegend: false, hovermode: false, barmode: 'overlay',
  shapes: [], annotations: []
};

// blue figure panels
blockDefs.forEach(b => {
  layout.shapes.push({type: 'rect', xref: 'paper', yref: 'paper', x0: fx(7), x1: 1, y0: fy(b.band[1]), y1: fy(b.band[0]),
    fillcolor: BLUE_BG, line: {width: 0}, layer: 'below'});
  [418, 830].forEach(sx => layout.shapes.push({type: 'line', xref: 'paper', yref: 'paper', x0: fx(sx), x1: fx(sx),
    y0: fy(b.band[1]), y1: fy(b.band[0]), line: {color: '#e9f1fb', width: 2}, layer: 'below'}));
});

let n = 0;
blockDefs.forEach(b => {
  b.kinds.forEach((kind, ri) => {
    models.forEach((m, ci) => {
      n++;
      const xa = n === 1 ? 'x' : 'x' + n, ya = n === 1 ? 'y' : 'y' + n;
      const xk = n === 1 ? 'xaxis' : 'xaxis' + n, yk = n === 1 ? 'yaxis' : 'yaxis' + n;
      const [T, B] = b.rows[ri];
      const L = b.L[ci], R = b.R[ci];
      const [yr, yt] = YAX[b.ch][kind](ci);

      const axCommon = {
        showline: true, linecolor: '#8e8e8e', linewidth: 1, mirror: 'ticks',
        ticks: 'inside', tickcolor: '#8e8e8e', tickwidth: 1,
        showgrid: true, gridcolor: '#e3e3e3', gridwidth: 1, zeroline: false,
        tickfont: {family: TXT_FONT, size: 14, color: TXT, weight: 'bold'}, fixedrange: true
      };
      layout[xk] = Object.assign({}, axCommon, {
        domain: [fx(L), fx(R)], anchor: ya, range: [0, 0.5],
        tickmode: 'array', tickvals: freqTickVals, ticktext: freqTickText, ticklen: 4, ticklabelstandoff: 2
      });
      layout[yk] = Object.assign({}, axCommon, {
        domain: [fy(B), fy(T)], anchor: xa, range: yr,
        tickmode: 'array', tickvals: yt, ticktext: yt.map(v => String(v)), ticklen: 6, ticklabelstandoff: 5
      });

      if (kind === 'spec' || kind === 'phase') {
        const src = kind === 'spec' ? SPEC[b.ch][m] : PHASE[b.ch][m];
        const hi = src[0], lo = src[1];
        traces.push({type: 'scatter', mode: 'lines', xaxis: xa, yaxis: ya, x: xs(lo), y: ys(lo),
          line: {color: RED, width: 1}});
        traces.push({type: 'scatter', mode: 'lines', xaxis: xa, yaxis: ya, x: xs(hi), y: ys(hi),
          line: {color: RED, width: 1}, fill: 'tonexty', fillcolor: RED});
        if (kind === 'phase') {
          const spk = src[2];
          traces.push({type: 'bar', xaxis: xa, yaxis: ya, x: xs(spk), y: spk.map(d => d[1] - SPIKE_BASE),
            base: SPIKE_BASE, width: HAIR_W, marker: {color: RED, line: {width: 0}}});
        }
      } else {
        const src = kind === 'specErr' ? SPECERR[b.ch][m] : PHASEERR[b.ch][m];
        const band = src[0], spk = src[1];
        traces.push({type: 'scatter', mode: 'lines', xaxis: xa, yaxis: ya, x: band.map(d => d[0]), y: band.map(d => d[1]),
          line: {color: MAGENTA, width: 1}});
        traces.push({type: 'scatter', mode: 'lines', xaxis: xa, yaxis: ya, x: band.map(d => d[0]), y: band.map(d => d[2]),
          line: {color: MAGENTA, width: 1}, fill: 'tonexty', fillcolor: MAGENTA});
        traces.push({type: 'bar', xaxis: xa, yaxis: ya, x: xs(spk), y: ys(spk), base: 0,
          width: SPIKE_W, marker: {color: MAGENTA, line: {width: 0}}});
      }

      // green marker line
      layout.shapes.push({type: 'line', xref: xa, yref: ya + ' domain', x0: cutoffFreq, x1: cutoffFreq, y0: 0, y1: 1,
        line: {color: GREEN, width: 2.5}, layer: 'above'});

      // title
      layout.annotations.push({xref: 'paper', yref: 'paper', x: fx((L + R) / 2), y: fy(T - 11),
        xanchor: 'center', yanchor: 'middle', showarrow: false,
        text: `${m} [VA]: ${TITLES[kind]} ${b.ch}`,
        font: {family: TXT_FONT, size: 16, color: TXT, weight: 'bold'}});
      // x label
      layout.annotations.push({xref: 'paper', yref: 'paper', x: fx((L + R) / 2), y: fy(B + 33),
        xanchor: 'center', yanchor: 'middle', showarrow: false, text: 'Frequency [Hz]',
        font: {family: TXT_FONT, size: 16, color: TXT, weight: 'bold'}});
      // y label
      const maxChars = Math.max(...yt.map(v => String(v).length));
      const off = 8 + 6 * maxChars;
      layout.annotations.push({xref: 'paper', yref: 'paper', x: fx(L - off), y: fy((T + B) / 2),
        xanchor: 'center', yanchor: 'middle', showarrow: false, textangle: -90, text: YLABELS[kind],
        font: {family: YLAB_FONT, size: 15.5, color: TXT, weight: 'bold'}});
    });
  });
});

const el = document.getElementById('chart');
el.style.width = PLOT_W + 'px';
el.style.height = FIG_H + 'px';
el.style.transform = 'scaleX(' + SQUEEZE + ')';
Plotly.newPlot(el, traces, layout, {staticPlot: true, displayModeBar: false});
</script>
</body></html>
